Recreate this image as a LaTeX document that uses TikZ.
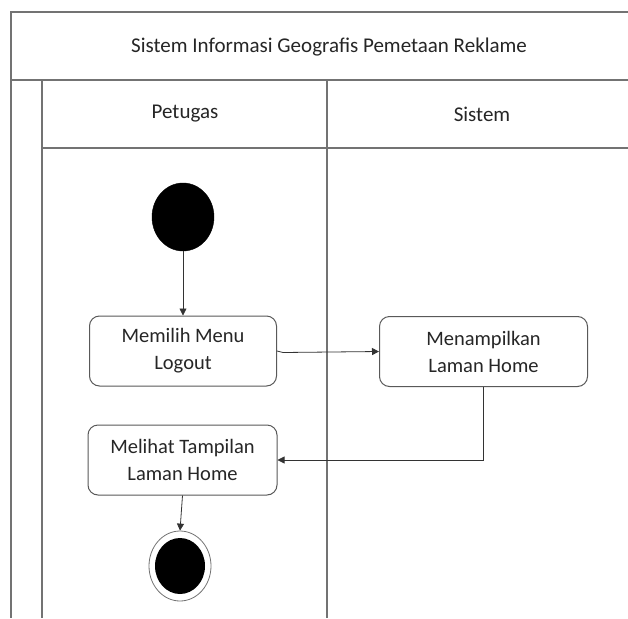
\documentclass[tikz,border=0pt]{standalone}
\usepackage{fontspec}
\setmainfont{Carlito}
\usetikzlibrary{arrows.meta,shapes.geometric}
\begin{document}
\begin{tikzpicture}[x=1pt,y=-1pt,
  frame/.style={draw=black!55, line width=1.6pt},
  act/.style={draw=black!65, line width=1pt, rounded corners=10pt, minimum width=187pt, minimum height=70pt, align=center, text=black!85, font=\fontsize{20.5}{27}\selectfont, inner sep=0pt},
  lbl/.style={text=black!85, font=\fontsize{21}{24}\selectfont, inner sep=0pt},
  initial/.style={shape=ellipse, fill=black, draw=black, minimum width=62pt, minimum height=68pt, inner sep=0pt},
  finalout/.style={shape=ellipse, draw=black!55, line width=0.8pt, fill=white, minimum width=62pt, minimum height=70pt, inner sep=0pt},
  finalin/.style={shape=ellipse, fill=black, minimum width=50pt, minimum height=56pt, inner sep=0pt},
  flow/.style={draw=black!80, line width=0.8pt, -{Triangle[length=7pt,width=7pt]}}]
\useasboundingbox (0,0) rectangle (628,618);
\fill[white] (0,0) rectangle (628,618);
% frame
\draw[frame] (628,12) -- (11,12) -- (11,618);
\draw[frame] (11,80) -- (628,80);
\draw[frame] (42,80) -- (42,618);
\draw[frame] (42,148) -- (628,148);
\draw[frame] (327,80) -- (327,618);
\node[lbl] (title) at (329,47) {Sistem Informasi Geografis Pemetaan Reklame};
\node[lbl] (lane1) at (185,114) {Petugas};
\node[lbl] (lane2) at (482,114) {Sistem};
% nodes
\node[initial] (start) at (183,217) {};
\node[act] (a1) at (183,351) {Memilih Menu\\Logout};
\node[act, minimum width=208pt] (a2) at (483.5,351.5) {Menampilkan\\Laman Home};
\node[act, minimum width=189pt] (a3) at (182.5,460) {Melihat Tampilan\\Laman Home};
\node[finalout] (end) at (180,566) {};
\node[finalin] (endin) at (end.center) {};
% flows
\draw[flow] (start.south) -- (a1.north);
\draw[flow] (a1.east) -- ++(6,1.5) -- (a2.west);
\draw[flow] (a2.south) |- (a3.east);
\draw[flow] (a3.south) -- (end.north);
\end{tikzpicture}
\end{document}
